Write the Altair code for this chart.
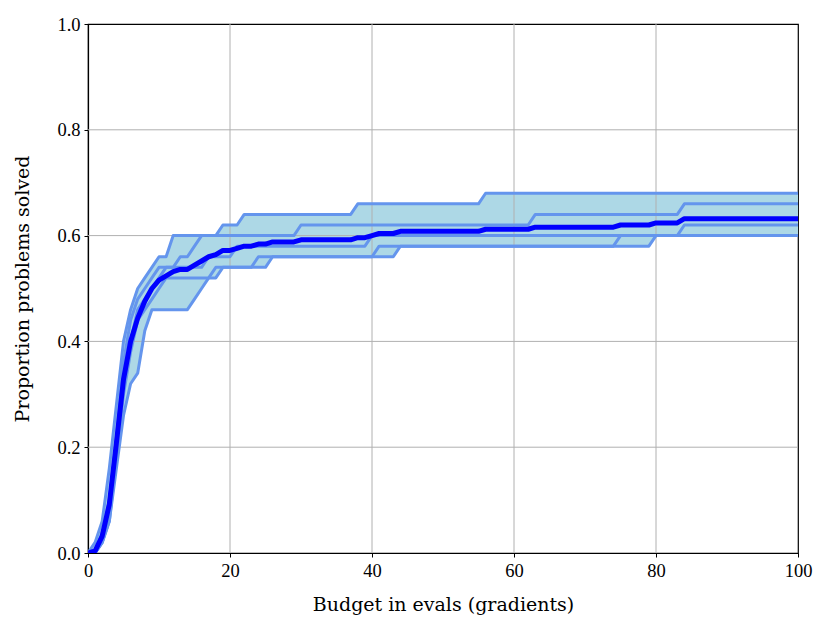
import altair as alt
import pandas as pd

# ---- data: each run is a step function (x where value changes, new value),
# sampled at every integer budget 0..100
x_budget = list(range(0, 101))

run_a_x = [0, 1, 2, 3, 4, 5, 6, 7, 8, 9, 10, 12, 19, 22, 38, 56]
run_a_y = [0, .02, .06, .16, .28, .40, .46, .50, .52, .54, .56, .60, .62, .64, .66, .68]

run_b_x = [0, 2, 3, 4, 5, 6, 7, 8, 9, 10, 13, 15, 16, 30, 63, 84]
run_b_y = [0, .04, .10, .22, .36, .44, .48, .50, .52, .54, .56, .58, .60, .62, .64, .66]

run_c_x = [0, 2, 3, 4, 5, 6, 7, 8, 9, 10, 11, 17, 21, 40, 84]
run_c_y = [0, .02, .08, .20, .32, .40, .46, .48, .50, .52, .54, .56, .58, .60, .62]

run_d_x = [0, 2, 3, 4, 5, 6, 7, 8, 9, 10, 11, 18, 24, 41, 75]
run_d_y = [0, .02, .06, .18, .30, .38, .44, .46, .48, .50, .52, .54, .56, .58, .60]

run_e_x = [0, 2, 3, 4, 5, 6, 7, 8, 9, 15, 16, 17, 19, 26, 44, 80]
run_e_y = [0, .02, .06, .16, .26, .32, .34, .42, .46, .48, .50, .52, .54, .56, .58, .60]

runs = {
    "a": (run_a_x, run_a_y),
    "b": (run_b_x, run_b_y),
    "c": (run_c_x, run_c_y),
    "d": (run_d_x, run_d_y),
    "e": (run_e_x, run_e_y),
}

x_ticks = [0, 20, 40, 60, 80, 100]
y_ticks = [0.0, 0.2, 0.4, 0.6, 0.8, 1.0]
x_grid = [20, 40, 60, 80]
y_grid = [0.2, 0.4, 0.6, 0.8]


def held(xs, ys, x):
    val = ys[0]
    for cx, cy in zip(xs, ys):
        if cx <= x:
            val = cy
    return val


rows = []
for name, (xs_, ys_) in runs.items():
    for x in x_budget:
        rows.append({"run": name, "x": x, "y": held(xs_, ys_, x)})
df_runs = pd.DataFrame(rows)

df_stats = df_runs.groupby("x")["y"].agg(["min", "max", "mean"]).reset_index()

LABEL_FONT = "Liberation Serif"
TITLE_FONT = "DejaVu Serif"

xs = alt.Scale(domain=[0, 100], nice=False, zero=False)
ys = alt.Scale(domain=[0, 1], nice=False)

x_axis = alt.Axis(values=x_ticks, title="Budget in evals (gradients)", format="d")
y_axis = alt.Axis(values=y_ticks, title="Proportion problems solved", format=".1f")

band = alt.Chart(df_stats).mark_area(color="#add8e6", opacity=1).encode(
    x=alt.X("x:Q", scale=xs, axis=x_axis),
    y=alt.Y("min:Q", scale=ys, axis=y_axis),
    y2="max:Q",
)

grid_x = alt.Chart(pd.DataFrame({"gx": x_grid})).mark_rule(
    color="#b0b0b0", strokeWidth=1
).encode(x=alt.X("gx:Q", scale=xs))

grid_y = alt.Chart(pd.DataFrame({"gy": y_grid})).mark_rule(
    color="#b0b0b0", strokeWidth=1
).encode(y=alt.Y("gy:Q", scale=ys))

lines = alt.Chart(df_runs).mark_line(
    color="#6495ed", strokeWidth=3, strokeJoin="round", clip=True
).encode(
    x=alt.X("x:Q", scale=xs),
    y=alt.Y("y:Q", scale=ys),
    detail="run:N",
)

mean_line = alt.Chart(df_stats).mark_line(
    color="#0000ff", strokeWidth=5, strokeJoin="round", clip=True
).encode(
    x=alt.X("x:Q", scale=xs),
    y=alt.Y("mean:Q", scale=ys),
)

chart = alt.layer(band, grid_x, grid_y, lines, mean_line).properties(
    width=710,
    height=529,
    autosize="none",
    padding={"left": 80, "top": 16, "right": 24, "bottom": 72},
    background="white",
).configure_view(
    stroke="black", strokeWidth=1.2
).configure_axis(
    grid=False,
    domainColor="black",
    domainWidth=1.2,
    tickColor="black",
    tickSize=4,
    tickWidth=1,
    labelFont=LABEL_FONT,
    labelFontSize=18.5,
    labelColor="black",
    labelFlush=False,
    titleFont=TITLE_FONT,
    titleFontSize=19,
    titleFontWeight="normal",
    titleColor="black",
    labelPadding=4,
).configure_axisX(
    titlePadding=16,
).configure_axisY(
    titlePadding=24,
)

chart.save("out.html", embed_options={"renderer": "svg", "actions": False})
